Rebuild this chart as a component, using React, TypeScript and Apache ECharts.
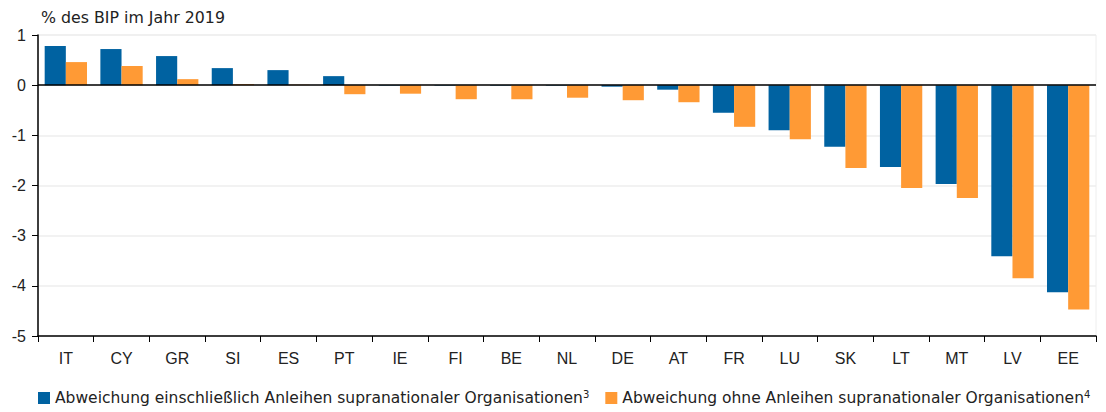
import React, { useEffect, useRef } from "react";
import * as echarts from "echarts";

const categories = ["IT", "CY", "GR", "SI", "ES", "PT", "IE", "FI", "BE", "NL", "DE", "AT", "FR", "LU", "SK", "LT", "MT", "LV", "EE"];
const inclSupra = [0.78, 0.72, 0.58, 0.34, 0.3, 0.18, -0.01, -0.01, -0.01, -0.01, -0.03, -0.09, -0.55, -0.9, -1.23, -1.63, -1.97, -3.41, -4.13];
const exclSupra = [0.46, 0.38, 0.12, 0.02, 0.01, -0.18, -0.17, -0.28, -0.28, -0.25, -0.3, -0.34, -0.83, -1.08, -1.65, -2.05, -2.25, -3.85, -4.47];
const seriesNames = [
  "Abweichung einschließlich Anleihen supranationaler Organisationen",
  "Abweichung ohne Anleihen supranationaler Organisationen",
];
const seriesSup = ["3", "4"];
const yTitle = "% des BIP im Jahr 2019";

const FONT = "'DejaVu Sans', 'Liberation Sans', sans-serif";
const AXFONT = "'Liberation Sans', Arial, sans-serif";

export default function App() {
  const ref = useRef<HTMLDivElement>(null);
  useEffect(() => {
    if (!ref.current) return;
    const chart = echarts.init(ref.current, undefined, { renderer: "svg" });
    chart.setOption({
      animation: false,
      textStyle: { fontFamily: FONT },
      title: {
        text: yTitle,
        left: 36,
        top: 4,
        textStyle: { fontFamily: FONT, fontSize: 15.8, fontWeight: "normal", color: "#222" },
      },
      grid: { left: 38, right: 10, top: 35, bottom: 76, show: true, borderColor: "#eeeeee", borderWidth: 1 },
      legend: {
        left: 33,
        bottom: 1,
        itemWidth: 12,
        itemHeight: 12,
        itemGap: 16,
        icon: "rect",
        data: seriesNames,
        formatter: (name: string) => {
          const i = seriesNames.indexOf(name);
          return `{a|${name}}{s|${seriesSup[i]}}`;
        },
        textStyle: {
          rich: {
            a: { fontFamily: FONT, fontSize: 15.5, color: "#222" },
            s: { fontFamily: FONT, fontSize: 10, color: "#222", verticalAlign: "top", padding: [0, 0, 8, 0] },
          },
        },
      },
      xAxis: {
        type: "category",
        data: categories,
        position: "bottom",
        axisLine: { onZero: false, lineStyle: { color: "#000", width: 1.5 } },
        axisTick: { show: true, length: 6, lineStyle: { color: "#000" } },
        axisLabel: { margin: 14, fontSize: 16, color: "#222", fontFamily: AXFONT },
        splitLine: { show: false },
      },
      yAxis: {
        type: "value",
        min: -5,
        max: 1,
        interval: 1,
        axisLine: { show: true, lineStyle: { color: "#000", width: 1.5 } },
        axisTick: { show: true, length: 6, lineStyle: { color: "#000" } },
        axisLabel: { fontSize: 16, color: "#222", margin: 12, fontFamily: AXFONT },
        splitLine: { show: true, lineStyle: { color: "#eeeeee", width: 1.5 } },
      },
      series: [
        {
          name: seriesNames[0],
          type: "bar",
          data: inclSupra,
          itemStyle: { color: "#0062a1" },
          barGap: "0%",
          barCategoryGap: "24%",
          markLine: {
            silent: true,
            symbol: "none",
            label: { show: false },
            lineStyle: { color: "#000", width: 1.5, type: "solid" },
            data: [{ yAxis: 0 }],
          },
        },
        {
          name: seriesNames[1],
          type: "bar",
          data: exclSupra,
          itemStyle: { color: "#ff9a35" },
          barGap: "0%",
          barCategoryGap: "24%",
        },
      ],
    });
    return () => chart.dispose();
  }, []);
  return <div ref={ref} style={{ position: "absolute", left: 0, top: 0, width: 1106, height: 412 }} />;
}
